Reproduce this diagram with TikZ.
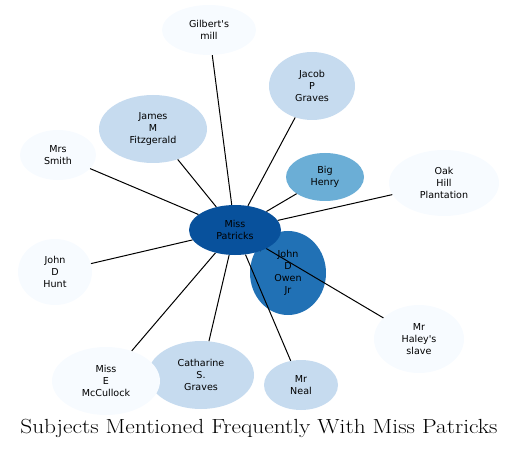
\documentclass[tikz,border=0pt]{standalone}
\usepackage{fontspec}
\newfontfamily\nodefont{DejaVu Sans}
\usetikzlibrary{shapes.geometric}
\pgfdeclarelayer{top}
\pgfsetlayers{main,top}
\definecolor{c1}{HTML}{F7FBFF}
\definecolor{c2}{HTML}{C6DBEF}
\definecolor{c3}{HTML}{6BAED6}
\definecolor{c4}{HTML}{2171B5}
\definecolor{c5}{HTML}{08519C}
\tikzset{
  subj/.style={ellipse, inner sep=0pt, align=center, text=black,
    font=\nodefont\fontsize{9.6}{12}\selectfont},
  link/.style={draw=black, line width=1bp},
}
\begin{document}
\begin{tikzpicture}[x=1bp,y=-1bp]
\useasboundingbox (0,0) rectangle (519,450);
\node[subj, fill=c4, minimum width=76bp, minimum height=84bp] (owen) at (288,273) {John\\D\\Owen\\Jr};
\node[subj, fill=c3, minimum width=78bp, minimum height=48bp] (henry) at (325,177) {Big\\Henry};
\node[subj, fill=c1, minimum width=94bp, minimum height=50bp] (gilbert) at (209,30) {Gilbert's\\mill};
\node[subj, fill=c2, minimum width=86bp, minimum height=68bp] (jacob) at (312,86) {Jacob\\P\\Graves};
\node[subj, fill=c2, minimum width=108bp, minimum height=68bp] (james) at (153,129) {James\\M\\Fitzgerald};
\node[subj, fill=c1, minimum width=76bp, minimum height=50bp] (smith) at (58,155) {Mrs\\Smith};
\node[subj, fill=c1, minimum width=110bp, minimum height=66bp] (oak) at (444,183) {Oak\\Hill\\Plantation};
\node[subj, fill=c1, minimum width=74bp, minimum height=66bp] (hunt) at (55,272) {John\\D\\Hunt};
\node[subj, fill=c1, minimum width=90bp, minimum height=68bp] (haley) at (419,339) {Mr\\Haley's\\slave};
\node[subj, fill=c2, minimum width=106bp, minimum height=68bp] (cath) at (201,375) {Catharine\\S.\\Graves};
\node[subj, fill=c1, minimum width=108bp, minimum height=68bp] (mcc) at (106,381) {Miss\\E\\McCullock};
\node[subj, fill=c2, minimum width=74bp, minimum height=50bp] (neal) at (301,385) {Mr\\Neal};
\begin{pgfonlayer}{top}
\node[subj, fill=c5, minimum width=92bp, minimum height=50bp] (mp) at (235,230) {Miss\\Patricks};
\end{pgfonlayer}
\foreach \t in {owen,henry,gilbert,jacob,james,smith,oak,hunt,haley,cath,mcc,neal}
  \draw[link] (mp) -- (\t);
\node[font=\fontsize{20.5}{24}\selectfont, inner sep=0pt] (title) at (259,428) {\scalebox{1.14}[1]{Subjects Mentioned Frequently With Miss Patricks}};
\end{tikzpicture}
\end{document}
